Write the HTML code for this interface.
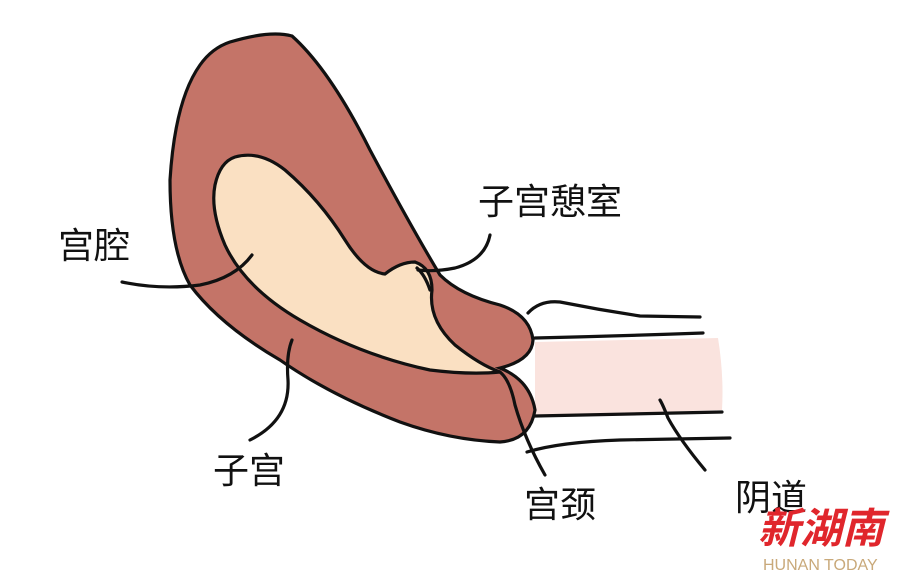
<!DOCTYPE html>
<html><head><meta charset="utf-8"><style>
body{margin:0;background:#fff;width:898px;height:578px;overflow:hidden}
svg{display:block}
text{font-family:"Liberation Sans","Noto Sans CJK SC",sans-serif}
</style></head><body>
<svg width="898" height="578" viewBox="0 0 898 578">
<g stroke="#111" stroke-width="3.2" fill="none" stroke-linecap="round">
<path d="M535 342 L718 338 Q724 375 722 410 L535 416 Z" fill="#fae3de" stroke="none"/>
<path d="M528 313 Q540 300 560 302 Q600 310 640 316 L700 317"/>
<path d="M535 338 Q620 336 703 333"/>
<path d="M535 416 Q630 414 722 412"/>
<path d="M527 452 Q560 442 620 440 L730 438"/>
<path d="M230 42 Q270 30 292 36 Q330 70 370 150 Q410 225 440 275 Q460 295 500 305 Q530 315 533 340 Q532 360 500 368 Q530 380 535 410 Q530 440 500 442 Q450 440 400 422 Q330 395 280 360 Q220 325 190 285 Q170 250 170 180 Q175 100 200 65 Q212 48 230 42 Z" fill="#c47468"/>
<path d="M235 157 Q260 150 285 170 Q320 200 345 240 Q365 272 385 274 Q400 262 415 262 Q432 268 432 290 Q428 320 455 345 Q480 365 500 372 Q470 375 430 370 Q360 355 300 320 Q245 288 225 245 Q210 210 215 185 Q220 162 235 157 Z" fill="#fae0c2"/>
<path d="M417 268 Q425 275 430 290"/>
<path d="M122 282 Q160 290 200 285 Q235 278 252 255"/>
<path d="M490 235 Q485 260 455 268 Q435 272 418 270"/>
<path d="M250 440 Q290 420 288 380 Q286 355 292 340"/>
<path d="M545 475 Q525 440 515 405 Q510 380 500 372"/>
<path d="M705 470 Q680 440 668 418 Q663 405 660 400"/>
</g>
<g fill="#111" font-size="36">
<text x="58" y="258">宫腔</text>
<text x="478" y="214">子宫憩室</text>
<text x="213" y="483">子宫</text>
<text x="524" y="517">宫颈</text>
<text x="735" y="510">阴道</text>
</g>
<text x="758" y="543" font-size="42" fill="#e0262c" font-style="italic" font-weight="bold" font-family="'Noto Serif CJK SC',serif">新湖南</text>
<text x="763" y="570" font-size="16" fill="#c9a97a">HUNAN TODAY</text>
</svg>
</body></html>
